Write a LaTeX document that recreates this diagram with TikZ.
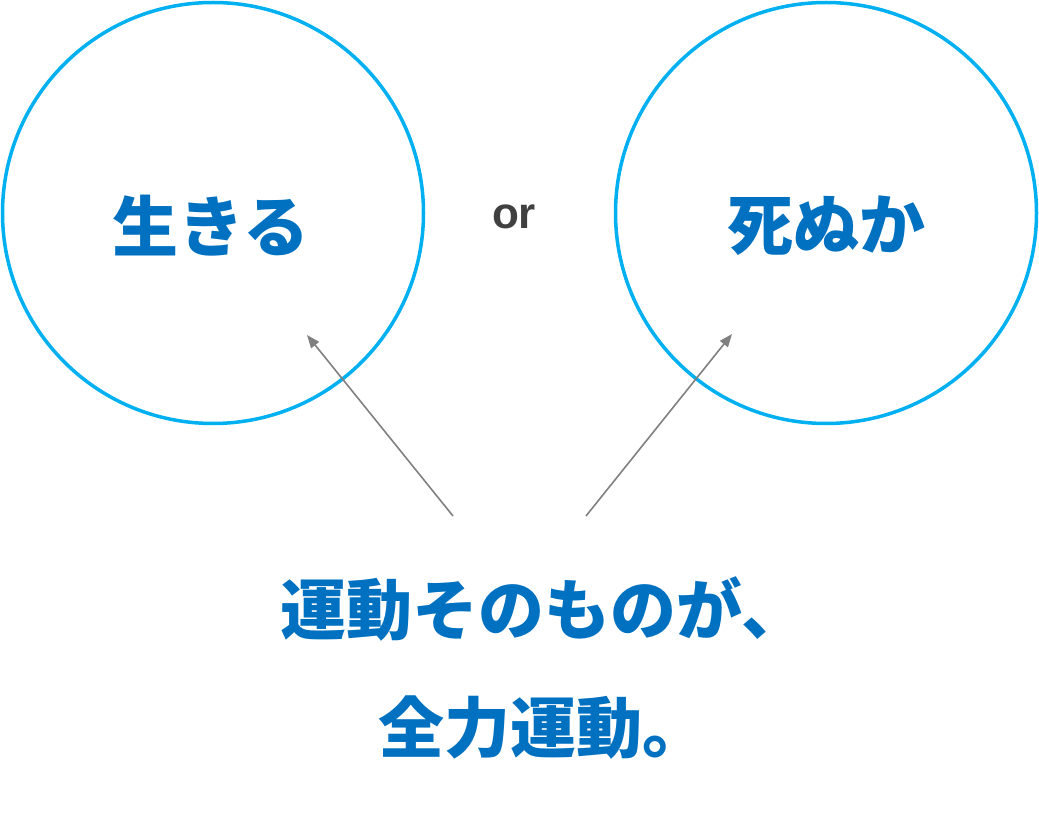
\documentclass[tikz,border=0pt]{standalone}
\usepackage{fontspec}
\setmainfont{Liberation Sans}
\newfontfamily\cjk{Noto Sans CJK JP}
\usetikzlibrary{arrows.meta}
\definecolor{ringblue}{HTML}{00B0F0}
\definecolor{textblue}{HTML}{0070C0}
\definecolor{arrowgray}{HTML}{808080}
\definecolor{orgray}{HTML}{404040}
\begin{document}
\begin{tikzpicture}[x=1pt,y=-1pt,
  ring/.style={draw=ringblue,line width=3.5pt,circle,minimum size=421pt,inner sep=0pt},
  bigtext/.style={font=\cjk\bfseries\fontsize{66}{76}\selectfont,text=textblue,inner sep=0pt},
  ortext/.style={font=\bfseries\fontsize{44}{50}\selectfont,text=orgray,inner sep=0pt},
  pointer/.style={draw=arrowgray,line width=1.6pt,-{Triangle[length=13pt,width=10pt]}}]
\useasboundingbox (0,0) rectangle (1039,818);
\node[ring] (live) at (213,213) {};
\node[ring] (die) at (826,213) {};
\node[bigtext] (livet) at (211,226) {生きる};
\node[bigtext] (diet) at (826,226) {死ぬか};
\node[ortext,anchor=base] (or) at (514,229) {or};
\node[bigtext] (l1) at (544,609) {運動そのものが、};
\node[bigtext] (l2) at (543,728) {全力運動。};
\coordinate (s1) at (453,516);
\coordinate (e1) at (307,335);
\coordinate (s2) at (586,516);
\coordinate (e2) at (732,334);
\draw[pointer] (s1) -- (e1);
\draw[pointer] (s2) -- (e2);
\end{tikzpicture}
\end{document}
